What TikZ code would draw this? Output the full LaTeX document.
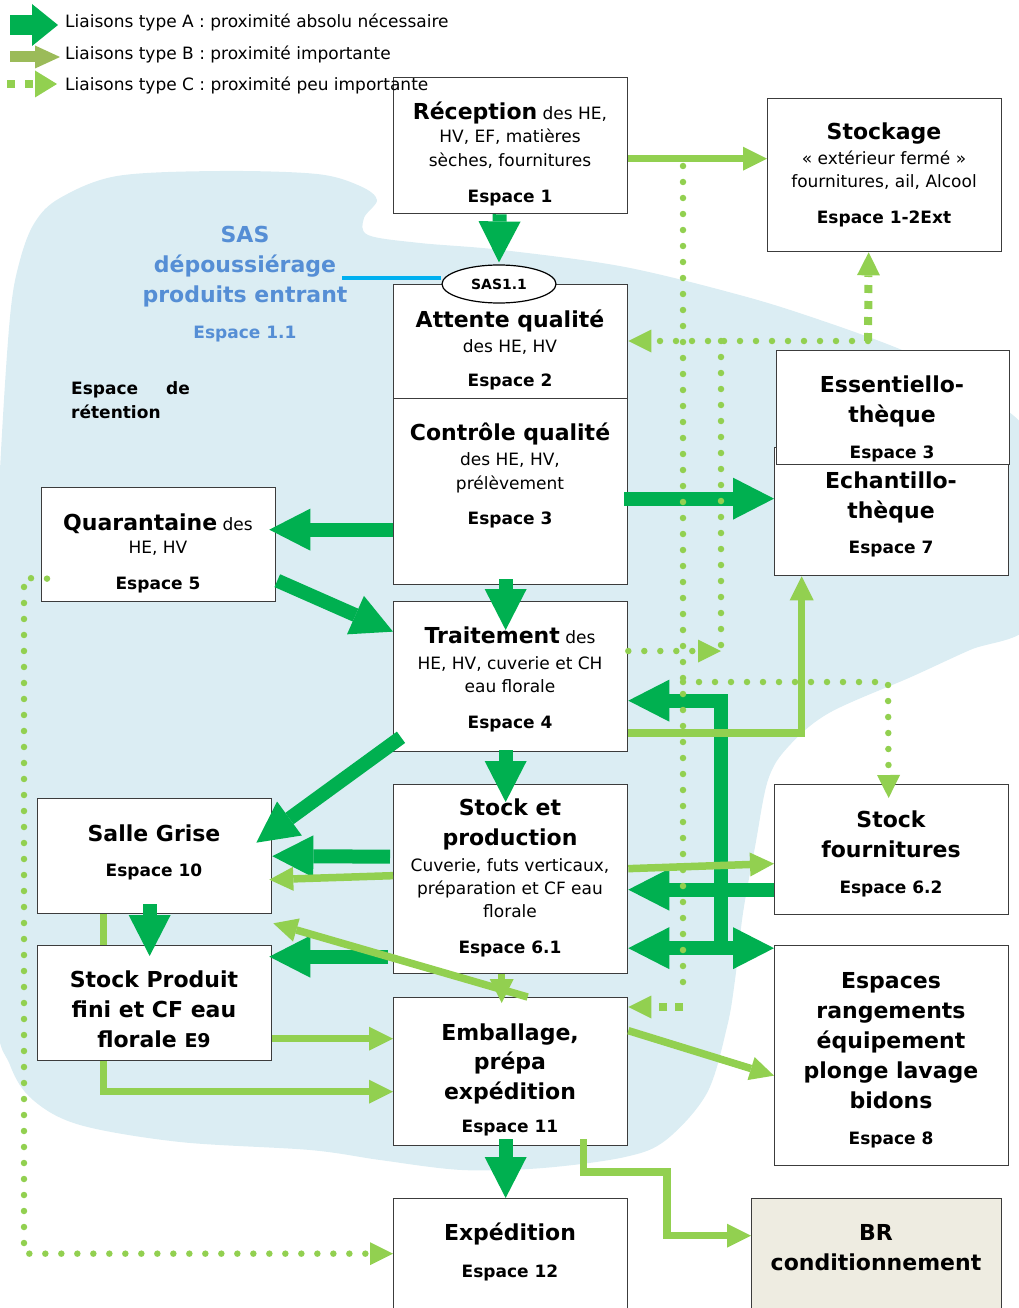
\documentclass[tikz,border=0pt]{standalone}
\usepackage{fontspec}
\setmainfont{DejaVu Sans}
\usetikzlibrary{arrows.meta,backgrounds,shapes.geometric}
\definecolor{gA}{RGB}{0,176,80}
\definecolor{gB}{RGB}{146,208,80}
\definecolor{gOl}{RGB}{155,187,89}
\definecolor{blobc}{RGB}{219,237,243}
\definecolor{sasblue}{RGB}{85,142,213}
\definecolor{sascyan}{RGB}{0,176,240}
\definecolor{brfill}{RGB}{238,236,225}
\definecolor{boxline}{RGB}{60,60,60}
\newcommand\ftitle{\fontsize{22}{26}\selectfont\bfseries}
\newcommand\freg{\fontsize{17}{20}\selectfont\mdseries}
\newcommand\fesp{\fontsize{17}{20}\selectfont\bfseries}
\tikzset{
 room/.style={draw=boxline, line width=1.3pt, fill=white, anchor=north west, inner sep=0pt, minimum width=234pt},
 ln/.style={anchor=base, inner sep=0pt, font=\freg},
 arrA/.style={draw=gA, line width=14pt, -{Triangle[length=41pt,width=42pt,line width=0pt]}},
 arrAA/.style={draw=gA, line width=14pt, {Triangle[length=41pt,width=42pt,line width=0pt]}-{Triangle[length=41pt,width=42pt,line width=0pt]}},
 arrB/.style={draw=gB, line width=7.5pt, -{Triangle[length=24pt,width=24pt,line width=0pt]}},
 dotC/.style={draw=gB, line width=6.5pt, line cap=round, dash pattern=on 0pt off 16pt},
 sqC/.style={draw=gB, line width=8pt, line cap=butt, dash pattern=on 8pt off 8pt},
 tipC/.style={-{Triangle[length=23pt,width=23pt,line width=0pt]}}
}
\begin{document}
\begin{tikzpicture}[x=1pt,y=-1pt]
\useasboundingbox (0,0) rectangle (1019,1308);

% ---------- rooms ----------
\node[room, minimum height=136pt] (rec) at (393,77) {};
\node[room, minimum height=153pt] (sto) at (767,98) {};
\node[room, minimum height=115pt] (att) at (393,284) {};
\node[room, minimum height=186pt] (ctl) at (393,398) {};
\node[room, minimum height=128pt] (ech) at (774,447) {};
\node[room, minimum height=114pt, minimum width=233pt] (ess) at (776,350) {};
\node[room, minimum height=114pt] (qua) at (41,487) {};
\node[room, minimum height=150pt] (tra) at (393,601) {};
\node[room, minimum height=115pt] (sg) at (37,798) {};
\node[room, minimum height=189pt] (sp) at (393,784) {};
\node[room, minimum height=130pt] (sf) at (774,784) {};
\node[room, minimum height=115pt] (spf) at (37,945) {};
\node[room, minimum height=148pt] (emb) at (393,997) {};
\node[room, minimum height=220pt] (esp) at (774,945) {};
\node[room, minimum height=130pt] (exp) at (393,1198) {};
\node[room, minimum height=130pt, minimum width=250pt, fill=brfill] (br) at (751,1198) {};
\node[ellipse, draw=black, line width=1.2pt, fill=white, minimum width=114pt, minimum height=38pt, inner sep=0pt, font=\fontsize{14}{16}\selectfont\bfseries] (sas) at (499,284) {SAS1.1};

% ---------- background ----------
\begin{scope}[on background layer]
\fill[blobc] plot[smooth cycle, tension=0.55] coordinates {
 (0,470) (10,317) (20,260) (35,222) (60,198) (117,176) (220,171) (317,174)
 (360,186) (377,200) (364,218) (368,235) (420,243) (502,250) (625,267)
 (747,297) (829,323) (902,350) (960,378) (1000,405) (1030,440) (1040,540)
 (1030,625) (970,650) (911,677) (829,713) (788,747) (768,780) (755,847)
 (743,913) (735,980) (727,1027) (707,1093) (666,1140) (625,1157) (543,1168)
 (462,1170) (380,1160) (310,1150) (180,1142) (80,1125) (33,1100) (10,1065)
 (-5,1000) (-10,700)};
\draw[arrB] ([xshift=-51pt]sg.south) |- ([yshift=-20pt]emb.west);
\end{scope}

% ---------- texts ----------
\node[ln] (recA) at (510,120) {{\ftitle Réception} des HE,};
\node[ln] (recB) at (510,143) {HV, EF, matières};
\node[ln] (recC) at (510,167) {sèches, fournitures};
\node[ln, font=\fesp] (recD) at (510,203) {Espace 1};

\node[ln, font=\ftitle] (stoA) at (884,140) {Stockage};
\node[ln] (stoB) at (884,165) {« extérieur fermé »};
\node[ln] (stoC) at (884,188) {fournitures, ail, Alcool};
\node[ln, font=\fesp] (stoD) at (884,223) {Espace 1-2Ext};

\node[ln, font=\ftitle] (attA) at (510,327) {Attente qualité};
\node[ln] (attB) at (510,352) {des HE, HV};
\node[ln, font=\fesp] (attC) at (510,386) {Espace 2};

\node[ln, font=\ftitle] (ctlA) at (510,440) {Contrôle qualité};
\node[ln] (ctlB) at (510,465) {des HE, HV,};
\node[ln] (ctlC) at (510,489) {prélèvement};
\node[ln, font=\fesp] (ctlD) at (510,524) {Espace 3};

\begin{scope}
\clip (ess.north west) rectangle (ess.south east);
\node[ln, font=\ftitle] (essA) at (892,392) {Essentiello-};
\node[ln, font=\ftitle] (essB) at (892,422) {thèque};
\node[ln, font=\fesp] (essC) at (892,458) {Espace 3};
\end{scope}

\node[ln, font=\ftitle] (echA) at (891,488) {Echantillo-};
\node[ln, font=\ftitle] (echB) at (891,518) {thèque};
\node[ln, font=\fesp] (echC) at (891,553) {Espace 7};

\node[ln] (quaA) at (158,530) {{\ftitle Quarantaine} des};
\node[ln] (quaB) at (158,553) {HE, HV};
\node[ln, font=\fesp] (quaC) at (158,589) {Espace 5};

\node[ln] (traA) at (510,643) {{\ftitle Traitement} des};
\node[ln] (traB) at (510,669) {HE, HV, cuverie et CH};
\node[ln] (traC) at (510,692) {eau florale};
\node[ln, font=\fesp] (traD) at (510,728) {Espace 4};

\node[ln, font=\ftitle] (sgA) at (154,841) {Salle Grise};
\node[ln, font=\fesp] (sgB) at (154,876) {Espace 10};

\node[ln, font=\ftitle] (spA) at (510,815) {Stock et};
\node[ln, font=\ftitle] (spB) at (510,845) {production};
\node[ln] (spC) at (510,871) {Cuverie, futs verticaux,};
\node[ln] (spD) at (510,894) {préparation et CF eau};
\node[ln] (spE) at (510,917) {florale};
\node[ln, font=\fesp] (spF) at (510,953) {Espace 6.1};

\node[ln, font=\ftitle] (sfA) at (891,827) {Stock};
\node[ln, font=\ftitle] (sfB) at (891,857) {fournitures};
\node[ln, font=\fesp] (sfC) at (891,893) {Espace 6.2};

\node[ln, font=\ftitle] (spfA) at (154,987) {Stock Produit};
\node[ln, font=\ftitle] (spfB) at (154,1017) {fini et CF eau};
\node[ln, font=\ftitle] (spfC) at (154,1047) {florale {\fontsize{19}{22}\selectfont\bfseries E9}};

\node[ln, font=\ftitle] (embA) at (510,1040) {Emballage,};
\node[ln, font=\ftitle] (embB) at (510,1069) {prépa};
\node[ln, font=\ftitle] (embC) at (510,1099) {expédition};
\node[ln, font=\fesp] (embD) at (510,1132) {Espace 11};

\node[ln, font=\ftitle] (espA) at (891,988) {Espaces};
\node[ln, font=\ftitle] (espB) at (891,1018) {rangements};
\node[ln, font=\ftitle] (espC) at (891,1048) {équipement};
\node[ln, font=\ftitle] (espD) at (891,1078) {plonge lavage};
\node[ln, font=\ftitle] (espE) at (891,1108) {bidons};
\node[ln, font=\fesp] (espF) at (891,1144) {Espace 8};

\node[ln, font=\ftitle] (expA) at (510,1240) {Expédition};
\node[ln, font=\fesp] (expB) at (510,1277) {Espace 12};

\node[ln, font=\ftitle] (brA) at (876,1240) {BR};
\node[ln, font=\ftitle] (brB) at (876,1270) {conditionnement};

\node[ln, font=\ftitle, text=sasblue] (sasA) at (245,242) {SAS};
\node[ln, font=\ftitle, text=sasblue] (sasB) at (245,272) {dépoussiérage};
\node[ln, font=\ftitle, text=sasblue] (sasC) at (245,302) {produits entrant};
\node[ln, font=\fesp, text=sasblue] (sasD) at (245,338) {Espace 1.1};

\node[ln, anchor=base west, font=\fesp] (retA) at (71,394) {Espace\hspace{28pt}de};
\node[ln, anchor=base west, font=\fesp] (retB) at (71,418) {rétention};

% ---------- SAS line ----------
\coordinate (sasL) at (342,278);
\draw[sascyan, line width=4.5pt] (sasL) -- (sasL -| sas.west);

% ---------- type A ----------
\draw[arrA] ([xshift=-11pt]rec.south) -- ([yshift=2pt]sas.north);
\draw[arrA] ([yshift=-38pt]ctl.west) -- ([xshift=-7pt,yshift=15pt]qua.east);
\draw[arrA] ([xshift=-4pt,yshift=-7pt]ctl.east) -- ([yshift=13pt]ech.west);
\draw[arrA] ([xshift=-5pt,yshift=6pt]ctl.south) -- ([xshift=-5pt,yshift=-29pt]tra.north);
\draw[arrA] ([xshift=1pt,yshift=-36pt]qua.east) -- ([yshift=45pt]tra.west);
\draw[arrA] ([xshift=8pt,yshift=15pt]tra.south west) -- ([xshift=-16pt,yshift=13.5pt]sg.east);
\draw[arrA] ([xshift=-5pt,yshift=2pt]tra.south) -- ([xshift=-5pt,yshift=-18pt]sp.north);
\draw[arrA] ([xshift=-3pt,yshift=22.5pt]sp.west) -- (sg.east);
\draw[arrA] ([xshift=-5pt,yshift=-77.5pt]sp.west) -- ([xshift=-3pt,yshift=46.5pt]spf.east);
\draw[arrA] ([xshift=-5pt,yshift=10pt]sg.south) -- ([xshift=-5pt,yshift=-11pt]spf.north);
\draw[arrA] ([yshift=-40pt]sf.west) -- ([yshift=-10.5pt]sp.east);
\draw[arrAA] ([yshift=-69pt]sp.east) -- ([yshift=107.5pt]esp.west);
\coordinate (jA) at (721,947.5);
\draw[arrA] (jA) |- ([yshift=-24pt]tra.east);
\draw[arrA] ([xshift=-5pt,yshift=7pt]emb.south) -- ([xshift=-5pt]exp.north);

% ---------- type B ----------
\draw[arrB] ([yshift=-13pt]rec.east) -- ([yshift=16.5pt]sto.west);
\draw[arrB] ([yshift=-56.5pt]tra.east) -| ([xshift=-90pt]ech.south);
\draw[arrB] ([yshift=10.5pt]sp.east) -- ([yshift=-14pt]sf.west);
\draw[arrB] ([yshift=3.5pt]sp.west) -- ([xshift=-3pt,yshift=-23.5pt]sg.east);
\draw[arrB] ([xshift=17pt]emb.north) -- ([xshift=1pt,yshift=-9pt]sg.south east);
\draw[arrB] ([xshift=-9pt]sp.south) -- ([xshift=-9pt,yshift=-6pt]emb.north);
\draw[arrB] ([yshift=-35.5pt]spf.east) -- ([yshift=33pt]emb.west);
\draw[arrB] ([yshift=41pt]emb.east) -- ([yshift=-20pt]esp.west);
\coordinate (brk) at (667,1172);
\draw[arrB] ([xshift=73pt,yshift=7pt]emb.south) |- (brk) |- ([yshift=28pt]br.west);

% ---------- type C ----------
\coordinate (c1top) at (683,166);
\coordinate (c1bot) at (683,1007);
\draw[dotC] (c1top) -- ([yshift=16pt]c1bot);
\draw[sqC, tipC] (c1bot) -- (c1bot -| emb.east);
\coordinate (c2) at (868,341);
\draw[dotC, tipC] (c2) -- (c2 -| att.east);
\draw[sqC, tipC] (c2) -- ([xshift=-16pt]sto.south);
\coordinate (c3) at (721,651);
\draw[dotC] (c3 |- c2) -- (c3);
\draw[dotC, tipC] (c3 -| tra.east) -- (c3);
\coordinate (c4a) at (683,682);
\coordinate (c4b) at (888,682);
\draw[dotC, tipC] (c4a) -- (c4b) -- ([xshift=-3pt,yshift=-14pt]sf.north);
\coordinate (c5) at (24,578);
\draw[dotC, tipC] ([xshift=6pt,yshift=-34pt]qua.west) -- (c5) |- ([yshift=10pt]exp.west);

% ---------- legend ----------
\coordinate (lA1) at (10,25); \coordinate (lA2) at (58,25);
\coordinate (lB1) at (10,57); \coordinate (lB2) at (60,57);
\coordinate (lC1) at (7,84);  \coordinate (lC2) at (57,84);
\draw[draw=gA, line width=20pt, -{Triangle[length=26pt,width=42pt,line width=0pt]}] (lA1) -- (lA2);
\draw[draw=gOl, line width=11pt, -{Triangle[length=25pt,width=23pt,line width=0pt]}] (lB1) -- (lB2);
\draw[sqC, -{Triangle[length=22pt,width=27pt,line width=0pt]}, dash pattern=on 8pt off 10pt] (lC1) -- (lC2);
\node[ln, anchor=base west] (legA) at (65,28) {Liaisons type A : proximité absolu nécessaire};
\node[ln, anchor=base west] (legB) at (65,60) {Liaisons type B : proximité importante};
\node[ln, anchor=base west] (legC) at (65,91) {Liaisons type C : proximité peu importante};
\end{tikzpicture}
\end{document}
